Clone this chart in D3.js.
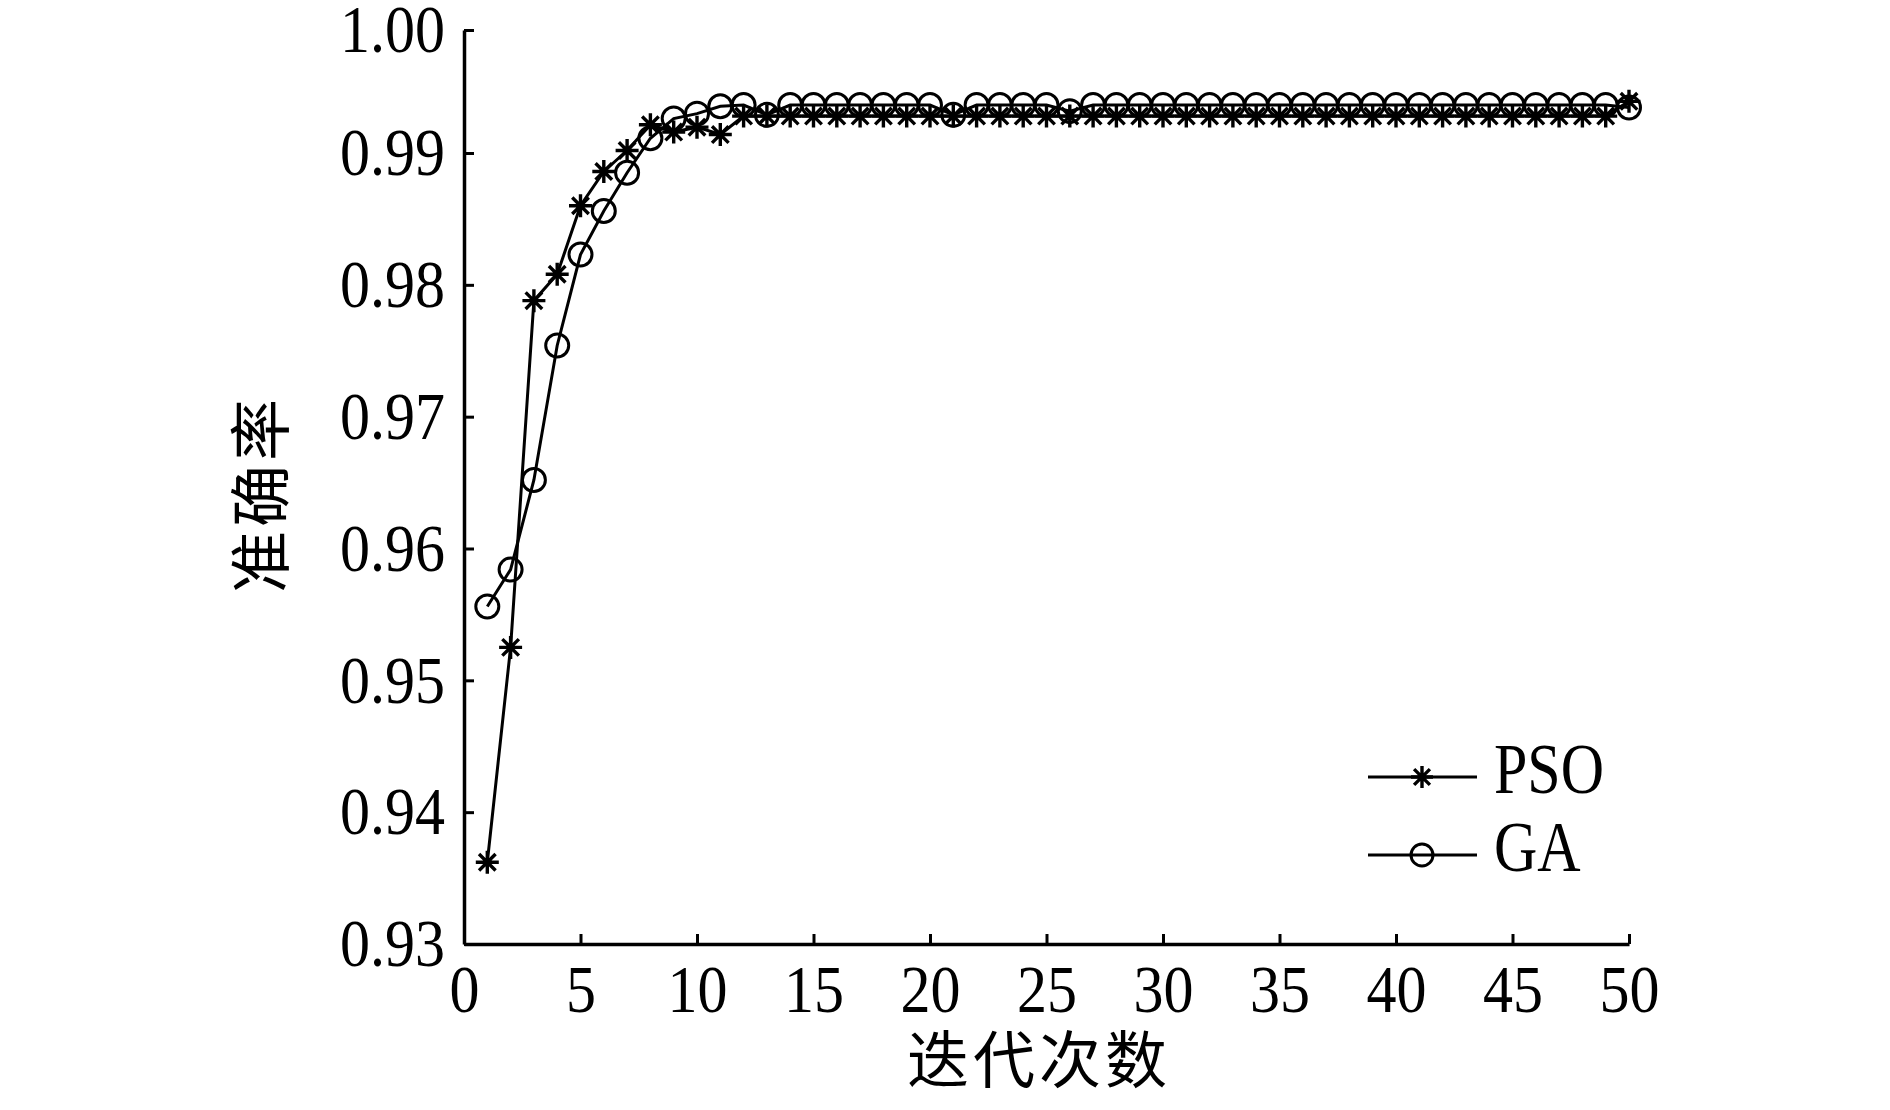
<!DOCTYPE html>
<html>
<head>
<meta charset="utf-8">
<script src="https://cdn.jsdelivr.net/npm/d3@7"></script>
<style>
  body { margin: 0; background: #fff; }
  svg { display: block; }
</style>
</head>
<body>
<script>
// iterations 1..50
var iters = d3.range(1, 51);

var psoVals = [0.9362, 0.9525, 0.9788, 0.9808, 0.9860, 0.9886, 0.9902, 0.9923, 0.9917, 0.9921,
               0.9915, 0.9930, 0.9930, 0.9930, 0.9930, 0.9930, 0.9930, 0.9930, 0.9930, 0.9930,
               0.9930, 0.9930, 0.9930, 0.9930, 0.9930, 0.9930, 0.9930, 0.9930, 0.9930, 0.9930,
               0.9930, 0.9930, 0.9930, 0.9930, 0.9930, 0.9930, 0.9930, 0.9930, 0.9930, 0.9930,
               0.9930, 0.9930, 0.9930, 0.9930, 0.9930, 0.9930, 0.9930, 0.9930, 0.9930, 0.9942];

var gaVals = [0.9556, 0.9584, 0.9652, 0.9754, 0.9823, 0.9856, 0.9885, 0.9912, 0.9928, 0.9932,
              0.9938, 0.9939, 0.9931, 0.9939, 0.9939, 0.9939, 0.9939, 0.9939, 0.9939, 0.9939,
              0.9931, 0.9939, 0.9939, 0.9939, 0.9939, 0.9934, 0.9939, 0.9939, 0.9939, 0.9939,
              0.9939, 0.9939, 0.9939, 0.9939, 0.9939, 0.9939, 0.9939, 0.9939, 0.9939, 0.9939,
              0.9939, 0.9939, 0.9939, 0.9939, 0.9939, 0.9939, 0.9939, 0.9939, 0.9939, 0.9937];

var xTicks = [0, 5, 10, 15, 20, 25, 30, 35, 40, 45, 50];
var yTicks = [0.93, 0.94, 0.95, 0.96, 0.97, 0.98, 0.99, 1.00];
var seriesNames = ["PSO", "GA"];

var w = 1890;
var h = 1110;
var stretch = 1.13;   // the source figure's text is a bit taller than wide

var svg = d3.select("body")
	.append("svg")
	.attr("width", w)
	.attr("height", h);

var x = d3.scaleLinear().domain([0, 50]).range([464, 1629]);
var y = d3.scaleLinear().domain([0.93, 0.99, 1.00]).range([944, 153, 30]);

// axes, ticks pointing inward
var xAxis = svg.append("g")
	.attr("transform", "translate(0," + y(0.93) + ")")
	.call(d3.axisBottom(x).tickValues(xTicks).tickSizeInner(-10).tickSizeOuter(0));

var yAxis = svg.append("g")
	.attr("transform", "translate(" + x(0) + ",0)")
	.call(d3.axisLeft(y).tickValues(yTicks).tickFormat(d3.format(".2f"))
		.tickSizeInner(-10).tickSizeOuter(0).tickPadding(19));

[xAxis, yAxis].forEach(function(a) {
	a.select(".domain").attr("stroke", "#000").attr("stroke-width", 3.5);
	a.selectAll(".tick line").attr("stroke", "#000").attr("stroke-width", 3);
	a.selectAll(".tick text")
		.attr("font-family", "'Liberation Serif', 'Times New Roman', serif")
		.attr("font-size", "60px")
		.attr("fill", "#000");
});

xAxis.selectAll(".tick text")
	.attr("y", 60)
	.attr("dy", 0)
	.attr("transform", "scale(1," + stretch + ")");

yAxis.selectAll(".tick text")
	.attr("transform", "scale(1," + stretch + ")");

// axis titles
svg.append("text")
	.text("迭代次数")
	.attr("x", 1039)
	.attr("y", 1056)
	.attr("text-anchor", "middle")
	.attr("dominant-baseline", "central")
	.attr("font-family", "'Noto Sans CJK SC', sans-serif")
	.attr("font-size", "62px")
	.attr("letter-spacing", "4px")
	.attr("fill", "#000");

svg.append("text")
	.text("准确率")
	.attr("transform", "translate(257,494) rotate(-90)")
	.attr("text-anchor", "middle")
	.attr("dominant-baseline", "central")
	.attr("font-family", "'Noto Sans CJK SC', sans-serif")
	.attr("font-size", "62px")
	.attr("letter-spacing", "4px")
	.attr("fill", "#000");

// markers
function drawStar(g, cx, cy, r) {
	var a = r * 0.72;
	var p = "M" + (cx - r) + "," + cy + "L" + (cx + r) + "," + cy +
		"M" + cx + "," + (cy - r) + "L" + cx + "," + (cy + r) +
		"M" + (cx - a) + "," + (cy - a) + "L" + (cx + a) + "," + (cy + a) +
		"M" + (cx - a) + "," + (cy + a) + "L" + (cx + a) + "," + (cy - a);
	g.append("path").attr("d", p).attr("stroke", "#000").attr("stroke-width", 3.4).attr("fill", "none");
}

function drawCircle(g, cx, cy, r) {
	g.append("circle").attr("cx", cx).attr("cy", cy).attr("r", r)
		.attr("stroke", "#000").attr("stroke-width", 3).attr("fill", "none");
}

var line = d3.line()
	.x(function(d) { return x(d[0]); })
	.y(function(d) { return y(d[1]); });

var series = [
	{ name: seriesNames[0], vals: psoVals, marker: drawStar },
	{ name: seriesNames[1], vals: gaVals, marker: drawCircle }
];

series.forEach(function(s) {
	var pts = iters.map(function(d, i) { return [d, s.vals[i]]; });
	var g = svg.append("g");
	g.append("path")
		.attr("d", line(pts))
		.attr("fill", "none")
		.attr("stroke", "#000")
		.attr("stroke-width", 3);
	pts.forEach(function(p) {
		s.marker(g, x(p[0]), y(p[1]), 11.5);
	});
});

// legend
var legendY = [777, 855];
series.forEach(function(s, i) {
	var g = svg.append("g");
	g.append("line")
		.attr("x1", 1368).attr("x2", 1477)
		.attr("y1", legendY[i]).attr("y2", legendY[i])
		.attr("stroke", "#000").attr("stroke-width", 3.2);
	s.marker(g, 1422, legendY[i], 11);
	g.append("text")
		.text(s.name)
		.attr("transform", "translate(1494," + (legendY[i] + 16) + ") scale(1,1.2)")
		.attr("font-family", "'Liberation Serif', 'Times New Roman', serif")
		.attr("font-size", "60px")
		.attr("fill", "#000");
});
</script>
</body>
</html>
